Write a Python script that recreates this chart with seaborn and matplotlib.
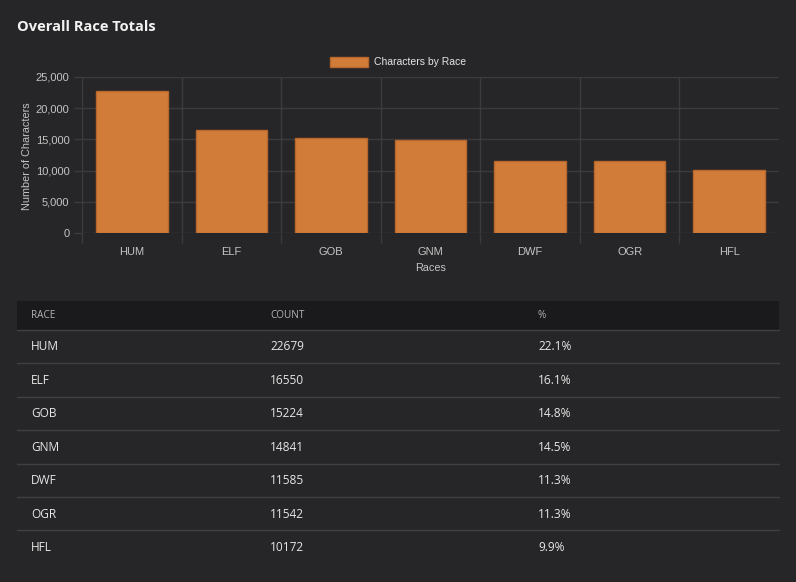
import matplotlib
matplotlib.use("Agg")
import matplotlib.pyplot as plt
import seaborn as sns
import pandas as pd
from matplotlib.patches import Rectangle
from matplotlib.lines import Line2D
from matplotlib.ticker import FuncFormatter, FixedLocator

# ── Data ──
races = ["HUM", "ELF", "GOB", "GNM", "DWF", "OGR", "HFL"]
counts = [22679, 16550, 15224, 14841, 11585, 11542, 10172]
pct_labels = ["22.1%", "16.1%", "14.8%", "14.5%", "11.3%", "11.3%", "9.9%"]
table_header = ["RACE", "COUNT", "%"]

# ── Style ──
BG = "#262628"
HEAD_BG = "#1a1a1c"
GRID = "#3b3b3e"
LINE = "#404043"
BAR = "#d17d39"
BAR_EDGE = "#b8672c"
TICK = "#c4c4c4"
TXT = "#e6e6e6"

sns.set_theme(style="dark")
plt.rcParams["font.family"] = ["Liberation Sans", "DejaVu Sans"]

W, H = 796, 582
fig = plt.figure(figsize=(W / 100, H / 100), dpi=100, facecolor=BG)


def fx(px):
    return px / W


def fy(py):
    return 1 - py / H


# ── Bar chart ──
left, right, top, bottom = 82, 779, 77, 233
ax = fig.add_axes([fx(left), fy(bottom), fx(right - left), (bottom - top) / H])
ax.set_facecolor(BG)

df = pd.DataFrame({"race": races, "count": counts})
sns.barplot(data=df, x="race", y="count", color=BAR, saturation=1, width=0.72,
            edgecolor=BAR_EDGE, linewidth=1, label="Characters by Race", ax=ax)

ax.set_xlim(-0.5, len(races) - 0.5)
ax.set_ylim(0, 25000)
ax.set_yticks(range(0, 25001, 5000))
ax.yaxis.set_major_formatter(FuncFormatter(lambda v, _: f"{int(v):,}"))
ax.xaxis.set_minor_locator(FixedLocator([i - 0.5 for i in range(len(races))]))

for s in ax.spines.values():
    s.set_visible(False)

ax.grid(axis="y", which="major", color=GRID, linewidth=1)
ax.grid(axis="x", which="minor", color=GRID, linewidth=1)
ax.set_axisbelow(True)
ax.tick_params(axis="y", which="major", left=True, length=6, width=1, color=GRID,
               labelcolor=TICK, labelsize=8, pad=3)
ax.tick_params(axis="x", which="major", bottom=False, length=0, labelcolor=TICK,
               labelsize=8, pad=10)
ax.tick_params(axis="x", which="minor", bottom=True, length=7, width=1, color=GRID)

ax.set_xlabel("")
ax.set_ylabel("")
fig.text(fx(431), fy(268), "Races", ha="center", va="center",
         color=TICK, fontsize=7.8)
fig.text(fx(27), fy(156), "Number of Characters", ha="center", va="center",
         rotation=90, color=TICK, fontsize=7.8)

leg = ax.legend(loc="center", bbox_to_anchor=(fx(398), fy(62)),
                bbox_transform=fig.transFigure, frameon=False,
                handlelength=3.7, handleheight=1.1, handletextpad=0.6,
                fontsize=7.5, labelcolor=TXT)

# ── Title ──
fig.text(fx(17), fy(27), "Overall Race Totals", ha="left", va="center",
         color="#f2f2f2", fontsize=10.5, fontweight="bold",
         family=["Open Sans", "DejaVu Sans"])

# ── Table ──
tx0, tx1 = 17, 779
col_x = [31, 270, 538]
fig.add_artist(Rectangle((fx(tx0), fy(330)), fx(tx1 - tx0), 29 / H,
                         transform=fig.transFigure, facecolor=HEAD_BG,
                         edgecolor="none"))
for name, cx in zip(table_header, col_x):
    fig.text(fx(cx), fy(315.5), name, ha="left", va="center", color="#b4b4b4",
             fontsize=7.2, family=["Open Sans", "DejaVu Sans"])

row_h = 33.4
for i, (r, c, p) in enumerate(zip(races, counts, pct_labels)):
    y_line = 330 + row_h * i
    fig.add_artist(Line2D([fx(tx0), fx(tx1)], [fy(y_line), fy(y_line)],
                          transform=fig.transFigure, color=LINE, linewidth=1))
    yc = 347 + row_h * i
    for val, cx in zip([r, str(c), p], col_x):
        fig.text(fx(cx), fy(yc), val, ha="left", va="center", color=TXT,
                 fontsize=8.6, family=["Open Sans", "DejaVu Sans"])

fig.savefig("out.png", dpi=100, facecolor=BG)
